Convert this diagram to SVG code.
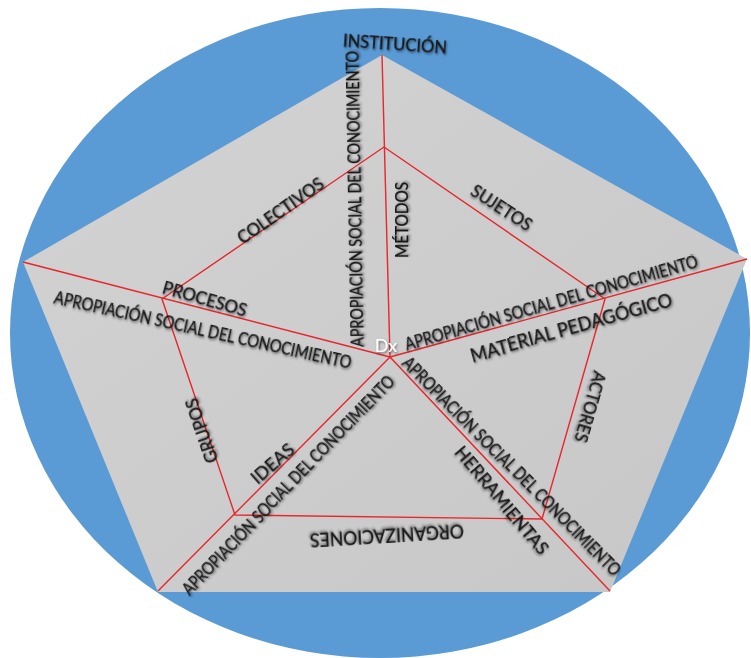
<svg xmlns="http://www.w3.org/2000/svg" width="751" height="658" viewBox="0 0 751 658">
<defs>
<filter id="sh" filterUnits="userSpaceOnUse" x="-400" y="-60" width="800" height="120">
<feDropShadow dx="1" dy="1.5" stdDeviation="1.1" flood-color="#000" flood-opacity="0.5"/>
</filter>
<linearGradient id="gr" x1="0" y1="0" x2="1" y2="1">
<stop offset="0" stop-color="#d3d3d3"/>
<stop offset="1" stop-color="#c7c7c7"/>
</linearGradient>
</defs>
<style>
.t{font-family:Lato,"Open Sans","Liberation Sans",sans-serif;font-size:17px;fill:#151515;stroke:#151515;stroke-width:0.25;text-anchor:middle;dominant-baseline:central;filter:url(#sh)}
.big{font-size:19px}
.ln{stroke:#e8262b;stroke-width:1.4;fill:none}
</style>
<rect width="751" height="658" fill="#ffffff"/>
<g id="background">
<ellipse cx="380" cy="333" rx="370" ry="325" fill="#5b9bd5"/>
<polygon points="382,55 747,259 610,592 158,592 23,262" fill="url(#gr)"/>
</g>
<g id="connectors">
<polygon class="ln" points="384,147 605,299 542,519 235,515 162,299"/>
<line class="ln" x1="390" y1="357" x2="382" y2="55"/>
<line class="ln" x1="390" y1="357" x2="747" y2="259"/>
<line class="ln" x1="390" y1="357" x2="610" y2="591"/>
<line class="ln" x1="390" y1="357" x2="158" y2="591"/>
<line class="ln" x1="390" y1="357" x2="23" y2="262"/>
</g>
<g id="institucion"><text class="t" transform="translate(395,43) rotate(4)" textLength="104" lengthAdjust="spacingAndGlyphs">INSTITUCIÓN</text></g>
<g id="asc-top"><text class="t" transform="translate(354,199) rotate(-91)" textLength="296" lengthAdjust="spacingAndGlyphs">APROPIACIÓN SOCIAL DEL CONOCIMIENTO</text></g>
<g id="colectivos"><text class="t" transform="translate(280,210) rotate(-35)" textLength="101" lengthAdjust="spacingAndGlyphs">COLECTIVOS</text></g>
<g id="metodos"><text class="t" transform="translate(401,220) rotate(-90)" textLength="76" lengthAdjust="spacingAndGlyphs">MÉTODOS</text></g>
<g id="sujetos"><text class="t" transform="translate(502,207) rotate(33)" textLength="69" lengthAdjust="spacingAndGlyphs">SUJETOS</text></g>
<g id="procesos"><text class="t" transform="translate(205,298) rotate(16)" textLength="87" lengthAdjust="spacingAndGlyphs">PROCESOS</text></g>
<g id="asc-left"><text class="t" transform="translate(203,329) rotate(12.5)" textLength="304" lengthAdjust="spacingAndGlyphs">APROPIACIÓN SOCIAL DEL CONOCIMIENTO</text></g>
<g id="asc-right"><text class="t" transform="translate(551,302) rotate(-16)" textLength="304" lengthAdjust="spacingAndGlyphs">APROPIACIÓN SOCIAL DEL CONOCIMIENTO</text></g>
<g id="material"><text class="t big" transform="translate(571,327) rotate(-15.5)" textLength="209" lengthAdjust="spacingAndGlyphs">MATERIAL PEDAGÓGICO</text></g>
<g id="actores"><text class="t" transform="translate(591,407) rotate(106)" textLength="73" lengthAdjust="spacingAndGlyphs">ACTORES</text></g>
<g id="asc-bottom-right"><text class="t" transform="translate(512,466) rotate(45.3)" textLength="301" lengthAdjust="spacingAndGlyphs">APROPIACIÓN SOCIAL DEL CONOCIMIENTO</text></g>
<g id="herramientas"><text class="t" transform="translate(502,500) rotate(49.6)" textLength="135" lengthAdjust="spacingAndGlyphs">HERRAMIENTAS</text></g>
<g id="organizaciones"><text class="t big" transform="translate(387,536) rotate(176.5)" textLength="154" lengthAdjust="spacingAndGlyphs">ORGANIZACIONES</text></g>
<g id="grupos"><text class="t" transform="translate(201,431) rotate(-109)" textLength="67" lengthAdjust="spacingAndGlyphs">GRUPOS</text></g>
<g id="ideas"><text class="t" transform="translate(272,463) rotate(-41)" textLength="51" lengthAdjust="spacingAndGlyphs">IDEAS</text></g>
<g id="asc-bottom-left"><text class="t" transform="translate(288,485) rotate(-45.8)" textLength="297" lengthAdjust="spacingAndGlyphs">APROPIACIÓN SOCIAL DEL CONOCIMIENTO</text></g>
<g id="dx"><text class="t" transform="translate(386,345)" style="fill:#ffffff;stroke:none;font-size:18px">Dx</text></g>
</svg>
